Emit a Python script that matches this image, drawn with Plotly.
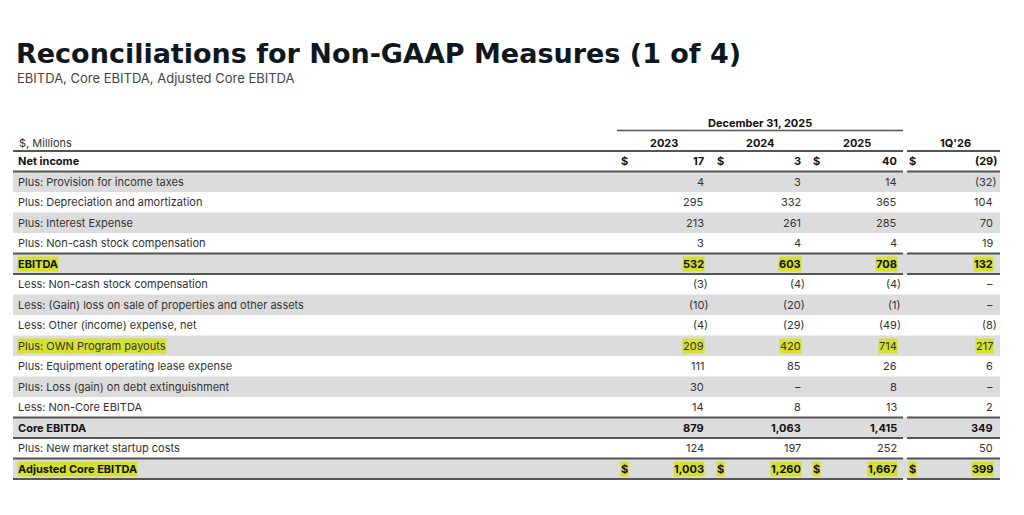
import plotly.graph_objects as go

title = "Reconciliations for Non-GAAP Measures (1 of 4)"
subtitle = "EBITDA, Core EBITDA, Adjusted Core EBITDA"
unit_label = "$, Millions"
group_label = "December 31, 2025"
periods = ["2023", "2024", "2025", "1Q'26"]

labels = [
    "Net income",
    "Plus: Provision for income taxes",
    "Plus: Depreciation and amortization",
    "Plus: Interest Expense",
    "Plus: Non-cash stock compensation",
    "EBITDA",
    "Less: Non-cash stock compensation",
    "Less: (Gain) loss on sale of properties and other assets",
    "Less: Other (income) expense, net",
    "Plus: OWN Program payouts",
    "Plus: Equipment operating lease expense",
    "Plus: Loss (gain) on debt extinguishment",
    "Less: Non-Core EBITDA",
    "Core EBITDA",
    "Plus: New market startup costs",
    "Adjusted Core EBITDA",
]
v2023 = [17, 4, 295, 213, 3, 532, -3, -10, -4, 209, 111, 30, 14, 879, 124, 1003]
v2024 = [3, 3, 332, 261, 4, 603, -4, -20, -29, 420, 85, 0, 8, 1063, 197, 1260]
v2025 = [40, 14, 365, 285, 4, 708, -4, -1, -49, 714, 26, 8, 13, 1415, 252, 1667]
v1q26 = [-29, -32, 104, 70, 19, 132, 0, 0, -8, 217, 6, 0, 2, 349, 50, 399]
columns = [v2023, v2024, v2025, v1q26]

bold_rows = {0, 5, 13, 15}
highlight_rows = {5, 9, 15}
dollar_rows = {0, 15}
ruled_rows = {0, 5, 13, 15}

# layout constants (pixels in the 1024x515 window; page body has an 8px margin)
W, H = 1024, 515
OFF = 8
left, right = 13, 1000
gap_l, gap_r = 903, 907
top0, row_h = 151, 20.5
dollar_x = [624, 720, 816, 912]
num_right = [705, 802, 898, 994]
head_center = [664, 760, 857, 955]
paren_w = 3.5
FONT = "Inter, Roboto, sans-serif"
TITLE_FONT = "DejaVu Sans, Inter, sans-serif"
GREY = "#dcdcdc"
YELLOW = "#d6e02e"
RULE = "#555555"
TXT = "#333333"
DARK = "#111111"


def fmt(v):
    if v == 0:
        return "–"
    s = f"{abs(v):,}"
    return f"({s})" if v < 0 else s


fig = go.Figure()
shapes = []
ann = []

for i in range(len(labels)):
    y0 = top0 + i * row_h
    y1 = y0 + row_h
    yc = (y0 + y1) / 2
    if i % 2 == 1:
        shapes.append(dict(type="rect", x0=left, x1=right, y0=y0, y1=y1,
                           fillcolor=GREY, line=dict(width=0), layer="below"))
    bold = i in bold_rows
    hl = i in highlight_rows
    color = DARK if bold else TXT
    weight = 700 if bold else 400
    ann.append(dict(x=17, y=yc, text=labels[i], xanchor="left", yanchor="middle",
                    showarrow=False, font=dict(family=FONT, size=11, color=color, weight=weight),
                    bgcolor=YELLOW if hl else None, borderpad=0))
    for c, vals in enumerate(columns):
        v = vals[i]
        xr = num_right[c] + (paren_w if v < 0 else 0)
        ann.append(dict(x=xr, y=yc, text=fmt(v), xanchor="right", yanchor="middle",
                        showarrow=False, font=dict(family=FONT, size=11, color=color, weight=weight),
                        bgcolor=YELLOW if hl else None, borderpad=0))
        if i in dollar_rows:
            ann.append(dict(x=dollar_x[c], y=yc, text="$", xanchor="center", yanchor="middle",
                            showarrow=False, font=dict(family=FONT, size=11, color=DARK, weight=700),
                            bgcolor=YELLOW if hl else None, borderpad=0))

# horizontal rules
rule_ys = set()
for i in ruled_rows:
    rule_ys.add(top0 + i * row_h)
    rule_ys.add(top0 + (i + 1) * row_h)
for y in sorted(rule_ys):
    shapes.append(dict(type="line", x0=left, x1=gap_l, y0=y, y1=y, line=dict(color=RULE, width=2)))
    shapes.append(dict(type="line", x0=gap_r, x1=right, y0=y, y1=y, line=dict(color=RULE, width=2)))

# group header
shapes.append(dict(type="line", x0=617, x1=gap_l, y0=130.5, y1=130.5, line=dict(color=RULE, width=1.5)))
ann.append(dict(x=(617 + gap_l) / 2, y=122.5, text=group_label, xanchor="center", yanchor="middle",
                showarrow=False, font=dict(family=FONT, size=11, color=DARK, weight=700)))
ann.append(dict(x=17, y=142.5, text=unit_label, xanchor="left", yanchor="middle",
                showarrow=False, font=dict(family=FONT, size=11, color=TXT)))
for c, p in enumerate(periods):
    ann.append(dict(x=head_center[c], y=142.5, text=p, xanchor="center", yanchor="middle",
                    showarrow=False, font=dict(family=FONT, size=11, color=DARK, weight=700)))

# title & subtitle
ann.append(dict(x=14, y=53, text=title, xanchor="left", yanchor="middle", showarrow=False,
                font=dict(family=TITLE_FONT, size=27, color="#0f1720", weight=700)))
ann.append(dict(x=15, y=78, text=subtitle, xanchor="left", yanchor="middle", showarrow=False,
                font=dict(family=FONT, size=13, color="#444444")))

fig.update_layout(
    width=W - OFF, height=H - 2 * OFF, margin=dict(l=0, r=0, t=0, b=0),
    paper_bgcolor="white", plot_bgcolor="white",
    xaxis=dict(range=[OFF, W], visible=False, fixedrange=True),
    yaxis=dict(range=[H - OFF, OFF], visible=False, fixedrange=True),
    shapes=shapes, annotations=ann, showlegend=False,
)
fig.write_html("out.html")
